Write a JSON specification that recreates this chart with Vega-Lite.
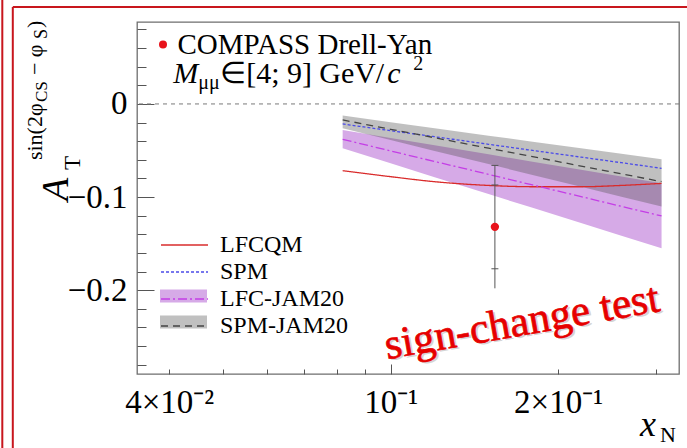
{
  "$schema": "https://vega.github.io/schema/vega-lite/v6.json",
  "width": 542,
  "height": 352,
  "autosize": {"type": "none"},
  "padding": {"left": 137, "top": 22, "right": 8, "bottom": 74},
  "background": "white",
  "config": {
    "font": "Liberation Serif",
    "view": {"stroke": "#6e6e6e", "strokeWidth": 1.3},
    "axis": {
      "domain": false,
      "grid": false,
      "tickColor": "#555555",
      "tickWidth": 1,
      "labelFont": "Liberation Serif",
      "labelColor": "#000000",
      "labelFontSize": 33,
      "labelFlush": false,
      "labelOverlap": false,
      "labelBound": false
    }
  },
  "data": {"values": [{}]},
  "datasets": {
    "bands": [
      {"band": "LFC-JAM20", "x": 0.082, "hi": -0.0280, "lo": -0.0477},
      {"band": "LFC-JAM20", "x": 0.1, "hi": -0.0366, "lo": -0.0638},
      {"band": "LFC-JAM20", "x": 0.12, "hi": -0.0444, "lo": -0.0786},
      {"band": "LFC-JAM20", "x": 0.15, "hi": -0.0541, "lo": -0.0967},
      {"band": "LFC-JAM20", "x": 0.18, "hi": -0.0620, "lo": -0.1116},
      {"band": "LFC-JAM20", "x": 0.22, "hi": -0.0707, "lo": -0.1279},
      {"band": "LFC-JAM20", "x": 0.26, "hi": -0.0780, "lo": -0.1415},
      {"band": "LFC-JAM20", "x": 0.307, "hi": -0.0852, "lo": -0.1549},
      {"band": "SPM-JAM20", "x": 0.082, "hi": -0.0125, "lo": -0.0262},
      {"band": "SPM-JAM20", "x": 0.1, "hi": -0.0196, "lo": -0.0388},
      {"band": "SPM-JAM20", "x": 0.12, "hi": -0.0261, "lo": -0.0504},
      {"band": "SPM-JAM20", "x": 0.15, "hi": -0.0341, "lo": -0.0646},
      {"band": "SPM-JAM20", "x": 0.18, "hi": -0.0405, "lo": -0.0762},
      {"band": "SPM-JAM20", "x": 0.22, "hi": -0.0477, "lo": -0.0890},
      {"band": "SPM-JAM20", "x": 0.26, "hi": -0.0536, "lo": -0.0996},
      {"band": "SPM-JAM20", "x": 0.307, "hi": -0.0595, "lo": -0.1102}
    ],
    "curves": [
      {"model": "LFCQM", "x": 0.082, "y": -0.0717},
      {"model": "LFCQM", "x": 0.1, "y": -0.0781},
      {"model": "LFCQM", "x": 0.12, "y": -0.0835},
      {"model": "LFCQM", "x": 0.15, "y": -0.0875},
      {"model": "LFCQM", "x": 0.18, "y": -0.0889},
      {"model": "LFCQM", "x": 0.22, "y": -0.0889},
      {"model": "LFCQM", "x": 0.26, "y": -0.0875},
      {"model": "LFCQM", "x": 0.307, "y": -0.0853},
      {"model": "SPM", "x": 0.082, "y": -0.0215},
      {"model": "SPM", "x": 0.1, "y": -0.0287},
      {"model": "SPM", "x": 0.12, "y": -0.0352},
      {"model": "SPM", "x": 0.15, "y": -0.0433},
      {"model": "SPM", "x": 0.18, "y": -0.0499},
      {"model": "SPM", "x": 0.22, "y": -0.0571},
      {"model": "SPM", "x": 0.26, "y": -0.0631},
      {"model": "SPM", "x": 0.307, "y": -0.0691},
      {"model": "LFC-JAM20", "x": 0.082, "y": -0.0380},
      {"model": "LFC-JAM20", "x": 0.1, "y": -0.0504},
      {"model": "LFC-JAM20", "x": 0.12, "y": -0.0618},
      {"model": "LFC-JAM20", "x": 0.15, "y": -0.0756},
      {"model": "LFC-JAM20", "x": 0.18, "y": -0.0870},
      {"model": "LFC-JAM20", "x": 0.22, "y": -0.0995},
      {"model": "LFC-JAM20", "x": 0.26, "y": -0.1100},
      {"model": "LFC-JAM20", "x": 0.307, "y": -0.1203},
      {"model": "SPM-JAM20", "x": 0.082, "y": -0.0172},
      {"model": "SPM-JAM20", "x": 0.1, "y": -0.0272},
      {"model": "SPM-JAM20", "x": 0.12, "y": -0.0363},
      {"model": "SPM-JAM20", "x": 0.15, "y": -0.0475},
      {"model": "SPM-JAM20", "x": 0.18, "y": -0.0566},
      {"model": "SPM-JAM20", "x": 0.22, "y": -0.0667},
      {"model": "SPM-JAM20", "x": 0.26, "y": -0.0751},
      {"model": "SPM-JAM20", "x": 0.307, "y": -0.0834}
    ],
    "point": [
      {"series": "COMPASS Drell-Yan", "x": 0.154, "y": -0.132, "totLo": -0.198, "totHi": -0.066, "statLo": -0.177, "statHi": -0.087}
    ]
  },
  "layer": [
    {
      "data": {"name": "bands"},
      "transform": [{"filter": "datum.band == 'LFC-JAM20'"}],
      "mark": {"type": "area", "opacity": 1},
      "encoding": {
        "x": {"field": "x", "type": "quantitative", "scale": {"type": "log", "domain": [0.035, 0.33], "nice": false},
              "axis": {"orient": "bottom", "title": null, "values": [0.04, 0.1, 0.2], "ticks": false, "labelPadding": 12,
                       "labelExpr": "datum.value < 0.05 ? '4×10⁻²' : datum.value < 0.15 ? '10⁻¹' : '2×10⁻¹'"}},
        "y": {"field": "hi", "type": "quantitative", "scale": {"domain": [-0.29, 0.088], "nice": false, "zero": false},
              "axis": {"orient": "left", "title": null, "values": [-0.2, -0.1, 0], "ticks": false, "format": ".1~f", "labelPadding": 10}},
        "y2": {"field": "lo"},
        "fill": {"field": "band", "type": "nominal",
                 "scale": {"domain": ["LFCQM band", "SPM band", "LFC-JAM20", "SPM-JAM20"], "range": ["transparent", "transparent", "#d6aae7", "rgba(80,80,80,0.36)"]},
                 "legend": {"orient": "none", "legendX": 34.5, "legendY": 210, "title": null, "padding": 0,
                            "symbolType": "M-1.958,-0.54H1.958V0.54H-1.958Z", "symbolSize": 576, "symbolStrokeWidth": 0, "symbolOpacity": 1,
                            "labelFontSize": 24, "labelExpr": "'\u200b'", "labelOffset": 22.5}}
      }
    },
    {
      "data": {"name": "bands"},
      "transform": [{"filter": "datum.band == 'SPM-JAM20'"}],
      "mark": {"type": "area", "opacity": 1},
      "encoding": {
        "x": {"field": "x", "type": "quantitative", "scale": {"type": "log", "domain": [0.035, 0.33], "nice": false},
              "axis": {"orient": "bottom", "title": null, "values": [0.1], "labels": false, "tickSize": -10}},
        "y": {"field": "hi", "type": "quantitative", "scale": {"domain": [-0.29, 0.088], "nice": false, "zero": false},
              "axis": {"orient": "left", "title": null, "values": [-0.2, -0.1, 0], "labels": false, "tickSize": -17}},
        "y2": {"field": "lo"},
        "fill": {"field": "band", "type": "nominal"}
      }
    },
    {
      "mark": {"type": "rule", "strokeDash": [4, 4], "color": "#7a7a7a", "strokeWidth": 1},
      "encoding": {
        "y": {"datum": 0, "type": "quantitative", "scale": {"domain": [-0.29, 0.088], "nice": false, "zero": false}, "axis": null}
      }
    },
    {
      "data": {"name": "curves"},
      "mark": {"type": "line", "strokeWidth": 1.3, "interpolate": "monotone"},
      "encoding": {
        "x": {"field": "x", "type": "quantitative", "scale": {"type": "log", "domain": [0.035, 0.33], "nice": false},
              "axis": {"orient": "bottom", "title": null, "values": [0.04, 0.05, 0.06, 0.07, 0.08, 0.09, 0.2, 0.3], "labels": false, "tickSize": -5}},
        "y": {"field": "y", "type": "quantitative", "scale": {"domain": [-0.29, 0.088], "nice": false, "zero": false},
              "axis": {"orient": "left", "title": null, "labels": false, "tickSize": -9,
                       "values": [-0.28, -0.26, -0.24, -0.22, -0.18, -0.16, -0.14, -0.12, -0.08, -0.06, -0.04, -0.02, 0.02, 0.04, 0.06, 0.08]}},
        "stroke": {"field": "model", "type": "nominal",
                   "scale": {"domain": ["LFCQM", "SPM", "LFC-JAM20", "SPM-JAM20"], "range": ["#d92b2b", "#4b4be8", "#c43ee6", "#444444"]},
                   "legend": {"orient": "none", "legendX": 34.5, "legendY": 210, "title": null, "padding": 0,
                              "symbolType": "M-1.958,0H1.958", "symbolSize": 576, "symbolStrokeWidth": 1.3, "symbolFillColor": "transparent",
                              "labelFont": "Liberation Serif", "labelFontSize": 24, "labelColor": "#000000", "labelOffset": 22.5, "labelLimit": 400}},
        "strokeDash": {"field": "model", "type": "nominal",
                       "scale": {"domain": ["LFCQM", "SPM", "LFC-JAM20", "SPM-JAM20"], "range": [[1, 0], [3, 2], [9, 3, 2, 3], [7, 5]]},
                       "legend": {"orient": "none", "legendX": 34.5, "legendY": 210, "title": null, "padding": 0,
                                  "symbolType": "M-1.958,0H1.958", "symbolSize": 576, "symbolStrokeWidth": 1.3, "symbolFillColor": "transparent",
                                  "labelFont": "Liberation Serif", "labelFontSize": 24, "labelColor": "#000000", "labelOffset": 22.5, "labelLimit": 400}}
      }
    },
    {
      "data": {"name": "point"},
      "mark": {"type": "rule", "color": "#555555", "strokeWidth": 1},
      "encoding": {
        "x": {"field": "x", "type": "quantitative", "scale": {"type": "log", "domain": [0.035, 0.33], "nice": false}, "axis": null},
        "y": {"field": "totLo", "type": "quantitative", "scale": {"domain": [-0.29, 0.088], "nice": false, "zero": false}, "axis": null},
        "y2": {"field": "totHi"}
      }
    },
    {
      "data": {"name": "point"},
      "transform": [{"fold": ["totHi", "statHi", "statLo"], "as": ["kind", "v"]}],
      "mark": {"type": "point", "shape": "stroke", "size": 49, "stroke": "#555555", "strokeWidth": 1, "opacity": 1},
      "encoding": {
        "x": {"field": "x", "type": "quantitative", "scale": {"type": "log", "domain": [0.035, 0.33], "nice": false}, "axis": null},
        "y": {"field": "v", "type": "quantitative", "scale": {"domain": [-0.29, 0.088], "nice": false, "zero": false}, "axis": null}
      }
    },
    {
      "data": {"name": "point"},
      "mark": {"type": "point", "filled": true, "color": "#e8131b", "size": 70, "opacity": 1},
      "encoding": {
        "x": {"field": "x", "type": "quantitative", "scale": {"type": "log", "domain": [0.035, 0.33], "nice": false}, "axis": null},
        "y": {"field": "y", "type": "quantitative", "scale": {"domain": [-0.29, 0.088], "nice": false, "zero": false}, "axis": null},
        "shape": {"field": "series", "type": "nominal", "scale": {"range": ["circle"]},
                  "legend": {"orient": "none", "legendX": 11.5, "legendY": 8, "title": null, "padding": 0,
                             "symbolSize": 64, "symbolFillColor": "#e8131b", "symbolStrokeWidth": 0,
                             "labelFont": "Liberation Serif", "labelFontSize": 29, "labelColor": "#000000", "labelOffset": 0, "labelLimit": 500}}
      }
    },
    {
      "mark": {"type": "text", "text": "M", "font": "Liberation Serif", "fontSize": 30, "fontStyle": "italic", "align": "left", "baseline": "alphabetic", "dx": -3},
      "encoding": {
        "x": {"datum": 0.04117, "type": "quantitative", "scale": {"type": "log", "domain": [0.035, 0.33], "nice": false}, "axis": null},
        "y": {"datum": 0.02258, "type": "quantitative", "scale": {"domain": [-0.29, 0.088], "nice": false, "zero": false}, "axis": null}
      }
    },
    {
      "mark": {"type": "text", "text": "μμ", "font": "Liberation Serif", "fontSize": 20, "align": "left", "baseline": "alphabetic", "dx": 22, "dy": 6},
      "encoding": {
        "x": {"datum": 0.04117, "type": "quantitative", "scale": {"type": "log", "domain": [0.035, 0.33], "nice": false}, "axis": null},
        "y": {"datum": 0.02258, "type": "quantitative", "scale": {"domain": [-0.29, 0.088], "nice": false, "zero": false}, "axis": null}
      }
    },
    {
      "mark": {"type": "text", "text": "∈[4; 9]", "font": "Liberation Serif", "fontSize": 30, "align": "left", "baseline": "alphabetic", "dx": 44},
      "encoding": {
        "x": {"datum": 0.04117, "type": "quantitative", "scale": {"type": "log", "domain": [0.035, 0.33], "nice": false}, "axis": null},
        "y": {"datum": 0.02258, "type": "quantitative", "scale": {"domain": [-0.29, 0.088], "nice": false, "zero": false}, "axis": null}
      }
    },
    {
      "mark": {"type": "text", "text": "GeV/", "font": "Liberation Serif", "fontSize": 30, "align": "left", "baseline": "alphabetic", "dx": 143},
      "encoding": {
        "x": {"datum": 0.04117, "type": "quantitative", "scale": {"type": "log", "domain": [0.035, 0.33], "nice": false}, "axis": null},
        "y": {"datum": 0.02258, "type": "quantitative", "scale": {"domain": [-0.29, 0.088], "nice": false, "zero": false}, "axis": null}
      }
    },
    {
      "mark": {"type": "text", "text": "c", "font": "Liberation Serif", "fontSize": 30, "fontStyle": "italic", "align": "left", "baseline": "alphabetic", "dx": 211},
      "encoding": {
        "x": {"datum": 0.04117, "type": "quantitative", "scale": {"type": "log", "domain": [0.035, 0.33], "nice": false}, "axis": null},
        "y": {"datum": 0.02258, "type": "quantitative", "scale": {"domain": [-0.29, 0.088], "nice": false, "zero": false}, "axis": null}
      }
    },
    {
      "mark": {"type": "text", "text": "2", "font": "Liberation Serif", "fontSize": 20, "align": "left", "baseline": "alphabetic", "dx": 237, "dy": -13},
      "encoding": {
        "x": {"datum": 0.04117, "type": "quantitative", "scale": {"type": "log", "domain": [0.035, 0.33], "nice": false}, "axis": null},
        "y": {"datum": 0.02258, "type": "quantitative", "scale": {"domain": [-0.29, 0.088], "nice": false, "zero": false}, "axis": null}
      }
    },
    {
      "mark": {"type": "text", "text": "A", "font": "Liberation Serif", "fontSize": 38, "fontStyle": "italic", "align": "left", "baseline": "alphabetic", "angle": 270},
      "encoding": {
        "x": {"datum": 0.02634, "type": "quantitative", "scale": {"type": "log", "domain": [0.035, 0.33], "nice": false}, "axis": null},
        "y": {"datum": -0.1043, "type": "quantitative", "scale": {"domain": [-0.29, 0.088], "nice": false, "zero": false}, "axis": null}
      }
    },
    {
      "mark": {"type": "text", "text": "T", "font": "Liberation Serif", "fontSize": 23, "align": "left", "baseline": "alphabetic", "angle": 270, "dx": 31, "dy": 12},
      "encoding": {
        "x": {"datum": 0.02634, "type": "quantitative", "scale": {"type": "log", "domain": [0.035, 0.33], "nice": false}, "axis": null},
        "y": {"datum": -0.1043, "type": "quantitative", "scale": {"domain": [-0.29, 0.088], "nice": false, "zero": false}, "axis": null}
      }
    },
    {
      "mark": {"type": "text", "text": "sin(2φ", "font": "Liberation Serif", "fontSize": 22, "align": "left", "baseline": "alphabetic", "angle": 270, "dx": 41, "dy": -26},
      "encoding": {
        "x": {"datum": 0.02634, "type": "quantitative", "scale": {"type": "log", "domain": [0.035, 0.33], "nice": false}, "axis": null},
        "y": {"datum": -0.1043, "type": "quantitative", "scale": {"domain": [-0.29, 0.088], "nice": false, "zero": false}, "axis": null}
      }
    },
    {
      "mark": {"type": "text", "text": "CS", "font": "Liberation Serif", "fontSize": 17, "align": "left", "baseline": "alphabetic", "angle": 270, "dx": 99, "dy": -21},
      "encoding": {
        "x": {"datum": 0.02634, "type": "quantitative", "scale": {"type": "log", "domain": [0.035, 0.33], "nice": false}, "axis": null},
        "y": {"datum": -0.1043, "type": "quantitative", "scale": {"domain": [-0.29, 0.088], "nice": false, "zero": false}, "axis": null}
      }
    },
    {
      "mark": {"type": "text", "text": "− φ", "font": "Liberation Serif", "fontSize": 22, "align": "left", "baseline": "alphabetic", "angle": 270, "dx": 126, "dy": -26},
      "encoding": {
        "x": {"datum": 0.02634, "type": "quantitative", "scale": {"type": "log", "domain": [0.035, 0.33], "nice": false}, "axis": null},
        "y": {"datum": -0.1043, "type": "quantitative", "scale": {"domain": [-0.29, 0.088], "nice": false, "zero": false}, "axis": null}
      }
    },
    {
      "mark": {"type": "text", "text": "S", "font": "Liberation Serif", "fontSize": 18, "align": "left", "baseline": "alphabetic", "angle": 270, "dx": 162, "dy": -21},
      "encoding": {
        "x": {"datum": 0.02634, "type": "quantitative", "scale": {"type": "log", "domain": [0.035, 0.33], "nice": false}, "axis": null},
        "y": {"datum": -0.1043, "type": "quantitative", "scale": {"domain": [-0.29, 0.088], "nice": false, "zero": false}, "axis": null}
      }
    },
    {
      "mark": {"type": "text", "text": ")", "font": "Liberation Serif", "fontSize": 22, "align": "left", "baseline": "alphabetic", "angle": 270, "dx": 173, "dy": -26},
      "encoding": {
        "x": {"datum": 0.02634, "type": "quantitative", "scale": {"type": "log", "domain": [0.035, 0.33], "nice": false}, "axis": null},
        "y": {"datum": -0.1043, "type": "quantitative", "scale": {"domain": [-0.29, 0.088], "nice": false, "zero": false}, "axis": null}
      }
    },
    {
      "mark": {"type": "text", "text": "x", "font": "Liberation Serif", "fontSize": 36, "fontStyle": "italic", "align": "left", "baseline": "alphabetic"},
      "encoding": {
        "x": {"datum": 0.2808, "type": "quantitative", "scale": {"type": "log", "domain": [0.035, 0.33], "nice": false}, "axis": null},
        "y": {"datum": -0.3570, "type": "quantitative", "scale": {"domain": [-0.29, 0.088], "nice": false, "zero": false}, "axis": null}
      }
    },
    {
      "mark": {"type": "text", "text": "N", "font": "Liberation Serif", "fontSize": 22, "align": "left", "baseline": "alphabetic", "dx": 20, "dy": 6},
      "encoding": {
        "x": {"datum": 0.2808, "type": "quantitative", "scale": {"type": "log", "domain": [0.035, 0.33], "nice": false}, "axis": null},
        "y": {"datum": -0.3570, "type": "quantitative", "scale": {"domain": [-0.29, 0.088], "nice": false, "zero": false}, "axis": null}
      }
    },
    {
      "mark": {"type": "text", "text": "sign-change test", "font": "Liberation Serif", "fontSize": 43, "align": "center", "baseline": "middle", "angle": 350, "dx": 2, "dy": 2, "fill": "#8a8a8a", "opacity": 0.35},
      "encoding": {
        "x": {"datum": 0.1723, "type": "quantitative", "scale": {"type": "log", "domain": [0.035, 0.33], "nice": false}, "axis": null},
        "y": {"datum": -0.2344, "type": "quantitative", "scale": {"domain": [-0.29, 0.088], "nice": false, "zero": false}, "axis": null}
      }
    },
    {
      "mark": {"type": "text", "text": "sign-change test", "font": "Liberation Serif", "fontSize": 43, "align": "center", "baseline": "middle", "angle": 350, "fill": "#e60000", "stroke": "#e60000", "strokeWidth": 0.7},
      "encoding": {
        "x": {"datum": 0.1723, "type": "quantitative", "scale": {"type": "log", "domain": [0.035, 0.33], "nice": false}, "axis": null},
        "y": {"datum": -0.2344, "type": "quantitative", "scale": {"domain": [-0.29, 0.088], "nice": false, "zero": false}, "axis": null}
      }
    },
    {
      "mark": {"type": "rule", "color": "#c8161d", "strokeWidth": 2},
      "encoding": {
        "x": {"datum": 0.02004, "type": "quantitative", "scale": {"type": "log", "domain": [0.035, 0.33], "nice": false}, "axis": null},
        "y": {"datum": 0.12, "type": "quantitative", "scale": {"domain": [-0.29, 0.088], "nice": false, "zero": false}, "axis": null},
        "y2": {"datum": -0.4}
      }
    },
    {
      "mark": {"type": "rule", "color": "#c8161d", "strokeWidth": 2},
      "encoding": {
        "x": {"datum": 0.02093, "type": "quantitative", "scale": {"type": "log", "domain": [0.035, 0.33], "nice": false}, "axis": null},
        "y": {"datum": 0.104, "type": "quantitative", "scale": {"domain": [-0.29, 0.088], "nice": false, "zero": false}, "axis": null},
        "y2": {"datum": -0.4}
      }
    },
    {
      "mark": {"type": "rule", "color": "#c8161d", "strokeWidth": 2},
      "encoding": {
        "x": {"datum": 0.02093, "type": "quantitative", "scale": {"type": "log", "domain": [0.035, 0.33], "nice": false}, "axis": null},
        "x2": {"datum": 0.6},
        "y": {"datum": 0.104, "type": "quantitative", "scale": {"domain": [-0.29, 0.088], "nice": false, "zero": false}, "axis": null}
      }
    }
  ],
  "resolve": {"axis": {"x": "independent", "y": "independent"}}
}
